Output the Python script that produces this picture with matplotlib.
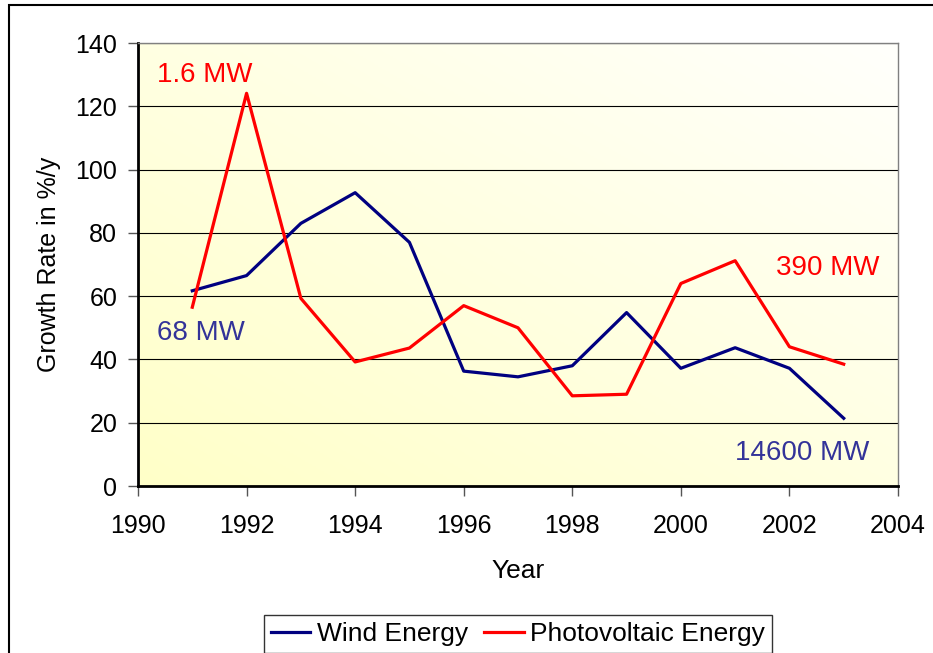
import matplotlib.pyplot as plt
import numpy as np
from matplotlib.colors import LinearSegmentedColormap
from matplotlib.patches import Rectangle

plt.rcParams['font.family'] = ['Liberation Sans', 'DejaVu Sans']

YEARS = [1991, 1992, 1993, 1994, 1995, 1996, 1997, 1998, 1999, 2000, 2001, 2002, 2003]
WIND = [61.7, 66.5, 83.0, 92.7, 77.0, 36.3, 34.5, 38.0, 54.8, 37.2, 43.7, 37.2, 21.4]
PV = [56.5, 124.1, 59.3, 39.2, 43.6, 57.0, 50.0, 28.5, 29.0, 64.0, 71.2, 44.0, 38.5]
X_TICKS = list(range(1990, 2005, 2))
Y_TICKS = list(range(0, 141, 20))

WIND_COLOR = "#000080"
PV_COLOR = "#ff0000"
WIND_TEXT = "#333399"


def main():
    fig = plt.figure(figsize=(9.33, 6.53), dpi=100)
    ax = fig.add_axes([138 / 933, 1 - 486 / 653, 760 / 933, 443 / 653])

    # outer chart border (runs off the right/bottom edge as in the original)
    fig.patches.append(Rectangle((9 / 933, -0.1), 1.2, 1 - 5 / 653 + 0.1,
                                 transform=fig.transFigure, fill=False,
                                 edgecolor="black", linewidth=1.5))

    # diagonal yellow-to-white gradient in the plot area
    cmap = LinearSegmentedColormap.from_list("bg", ["#ffffc8", "#fffffc"])
    gx, gy = np.meshgrid(np.linspace(0, 1, 200), np.linspace(0, 1, 200))
    ax.imshow((gx + gy) / 2, cmap=cmap, extent=[0, 1, 0, 1], origin="lower",
              transform=ax.transAxes, aspect="auto", zorder=0)

    ax.plot(YEARS, WIND, color=WIND_COLOR, linewidth=2.3, label="Wind Energy", zorder=3)
    ax.plot(YEARS, PV, color=PV_COLOR, linewidth=2.3, label="Photovoltaic Energy", zorder=3)

    ax.set_xlim(1990, 2004)
    ax.set_ylim(0, 140)
    ax.set_xticks(X_TICKS)
    ax.set_yticks(Y_TICKS)
    ax.tick_params(labelsize=18, length=7, width=1, direction="out", color="#555555")
    ax.tick_params(axis="x", pad=13)
    ax.tick_params(axis="y", pad=8)
    ax.yaxis.grid(True, color="black", linewidth=0.8, zorder=1)
    ax.set_axisbelow(True)

    for side in ["top", "right"]:
        ax.spines[side].set_color("#808080")
        ax.spines[side].set_linewidth(1)
    for side in ["left", "bottom"]:
        ax.spines[side].set_linewidth(2)

    ax.set_xlabel("Year", fontsize=19, labelpad=15)
    ax.set_ylabel("Growth Rate in %/y", fontsize=18, labelpad=10)

    ax.text(1990.35, 129.9, "1.6 MW", color=PV_COLOR, fontsize=20, va="center")
    ax.text(1990.35, 48.4, "68 MW", color=WIND_TEXT, fontsize=20, va="center")
    ax.text(2001.75, 68.9, "390 MW", color=PV_COLOR, fontsize=20, va="center")
    ax.text(2000.99, 10.4, "14600 MW", color=WIND_TEXT, fontsize=20, va="center")

    leg = ax.legend(loc="lower center", bbox_to_anchor=(0.5, -0.376), ncol=2,
                    fontsize=19, frameon=True, fancybox=False, edgecolor="black",
                    handlelength=1.5, handletextpad=0.25, columnspacing=0.6,
                    borderpad=0.25, borderaxespad=0)
    leg.get_frame().set_linewidth(1)

    fig.savefig("out.png", dpi=100)


if __name__ == '__main__':
    main()
